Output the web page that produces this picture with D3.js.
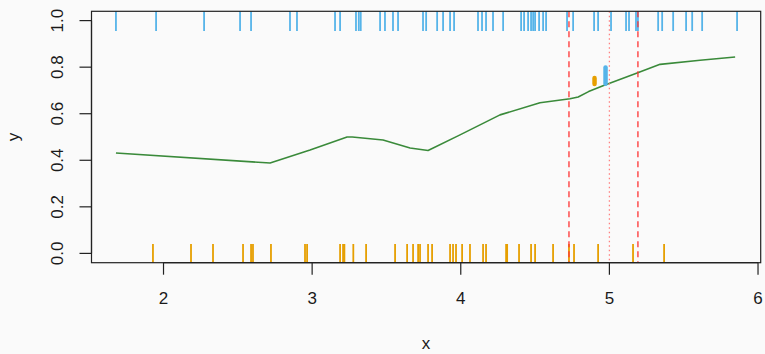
<!DOCTYPE html>
<html><head><meta charset="utf-8">
<script src="https://cdn.jsdelivr.net/npm/d3@7"></script>
<style>html,body{margin:0;padding:0;background:#fafafa;}svg{display:block;}text{font-family:"Liberation Sans",Arial,sans-serif;fill:#1a1a1a;}</style>
</head><body><svg id="c" width="765" height="354"></svg>
<script>
const xTicks = [2, 3, 4, 5, 6];
const yTicks = [0, 0.2, 0.4, 0.6, 0.8, 1.0];
const yTickLabels = ["0.0", "0.2", "0.4", "0.6", "0.8", "1.0"];
const rugTop = [1.680,1.950,2.273,2.515,2.589,2.851,2.898,3.154,3.188,3.295,3.314,3.327,3.457,3.490,3.544,3.578,3.746,3.767,3.841,3.881,3.928,3.955,4.116,4.143,4.170,4.217,4.285,4.406,4.426,4.453,4.473,4.487,4.500,4.527,4.554,4.574,4.715,4.756,4.897,4.924,5.011,5.112,5.132,5.179,5.192,5.328,5.355,5.429,5.516,5.557,5.624,5.859];
const rugBottom = [1.929,2.185,2.333,2.535,2.589,2.602,2.723,2.952,2.966,3.188,3.208,3.217,3.277,3.363,3.558,3.639,3.679,3.713,3.726,3.780,3.807,3.928,3.948,3.968,4.009,4.062,4.150,4.170,4.305,4.312,4.392,4.473,4.500,4.621,4.728,4.762,4.924,5.159,5.368];
const curveX = [1.680,2.717,2.986,3.235,3.270,3.477,3.659,3.780,3.995,4.264,4.533,4.735,4.790,4.860,4.957,5.182,5.341,5.610,5.846];
const curveY = [0.431,0.388,0.444,0.500,0.500,0.487,0.453,0.442,0.509,0.595,0.647,0.664,0.672,0.695,0.720,0.774,0.812,0.830,0.844];
const dashedX = [4.728, 5.192];
const dottedX = [5.0];
const segX = [4.90, 4.974];
const segY0 = [0.719, 0.720];
const segY1 = [0.762, 0.807];
const segColor = ["#E69F00", "#56B4E9"];

const L = 91.5, R = 760.7, T = 11.3, B = 262.7;
const svg = d3.select("#c");
const x = d3.scaleLinear().domain([1.5155, 6.018]).range([L, R]);
const y = d3.scaleLinear().domain([-0.04, 1.04]).range([B, T]);

svg.append("rect").attr("width", 765).attr("height", 354).attr("fill", "#fafafa");

// rugs
svg.append("g").selectAll("line").data(rugTop).join("line")
  .attr("x1", d => x(d)).attr("x2", d => x(d)).attr("y1", T).attr("y2", 31)
  .attr("stroke", "#56B4E9").attr("stroke-width", 1.8);
svg.append("g").selectAll("line").data(rugBottom).join("line")
  .attr("x1", d => x(d)).attr("x2", d => x(d)).attr("y1", 244).attr("y2", B)
  .attr("stroke", "#E69F00").attr("stroke-width", 1.8);

// curve
const pts = curveX.map((v, i) => [v, curveY[i]]);
svg.append("path").datum(pts)
  .attr("d", d3.line().x(d => x(d[0])).y(d => y(d[1])).curve(d3.curveLinear))
  .attr("fill", "none").attr("stroke", "#3a8a3a").attr("stroke-width", 1.6).attr("stroke-linejoin", "round");

// vertical reference lines
svg.append("g").selectAll("line").data(dashedX).join("line")
  .attr("x1", d => x(d)).attr("x2", d => x(d)).attr("y1", T).attr("y2", B)
  .attr("stroke", "#ff3333").attr("stroke-width", 1.3).attr("stroke-dasharray", "6,4");
svg.append("g").selectAll("line").data(dottedX).join("line")
  .attr("x1", d => x(d)).attr("x2", d => x(d)).attr("y1", T).attr("y2", B)
  .attr("stroke", "#ff8080").attr("stroke-width", 1.3).attr("stroke-dasharray", "1.5,3");

// short segments
svg.append("g").selectAll("line").data(segX).join("line")
  .attr("x1", d => x(d)).attr("x2", d => x(d))
  .attr("y1", (d, i) => y(segY0[i]) - 2).attr("y2", (d, i) => y(segY1[i]) + 2)
  .attr("stroke", (d, i) => segColor[i]).attr("stroke-width", 4.5).attr("stroke-linecap", "round");

// frame
svg.append("rect").attr("x", L).attr("y", T).attr("width", R - L).attr("height", B - T)
  .attr("fill", "none").attr("stroke", "#222").attr("stroke-width", 1.2);

// x axis
const gx = svg.append("g");
gx.append("line").attr("x1", x(2)).attr("x2", x(6)).attr("y1", B).attr("y2", B).attr("stroke", "#222").attr("stroke-width", 1.2);
gx.selectAll("line.t").data(xTicks).join("line").attr("class", "t")
  .attr("x1", d => x(d)).attr("x2", d => x(d)).attr("y1", B).attr("y2", B + 12).attr("stroke", "#222").attr("stroke-width", 1.2);
gx.selectAll("text").data(xTicks).join("text")
  .attr("x", d => x(d)).attr("y", 304).attr("text-anchor", "middle").attr("font-size", 17).text(d => d);
svg.append("text").attr("x", (L + R) / 2).attr("y", 349).attr("text-anchor", "middle").attr("font-size", 17).text("x");

// y axis
const gy = svg.append("g");
gy.append("line").attr("x1", L).attr("x2", L).attr("y1", y(0)).attr("y2", y(1)).attr("stroke", "#222").attr("stroke-width", 1.2);
gy.selectAll("line.t").data(yTicks).join("line").attr("class", "t")
  .attr("x1", L - 12).attr("x2", L).attr("y1", d => y(d)).attr("y2", d => y(d)).attr("stroke", "#222").attr("stroke-width", 1.2);
gy.selectAll("text").data(yTicks).join("text")
  .attr("transform", d => `translate(63,${y(d)}) rotate(-90)`)
  .attr("text-anchor", "middle").attr("font-size", 17).text((d, i) => yTickLabels[i]);
svg.append("text").attr("transform", `translate(19,${(T + B) / 2}) rotate(-90)`)
  .attr("text-anchor", "middle").attr("font-size", 17).text("y");
</script></body></html>
